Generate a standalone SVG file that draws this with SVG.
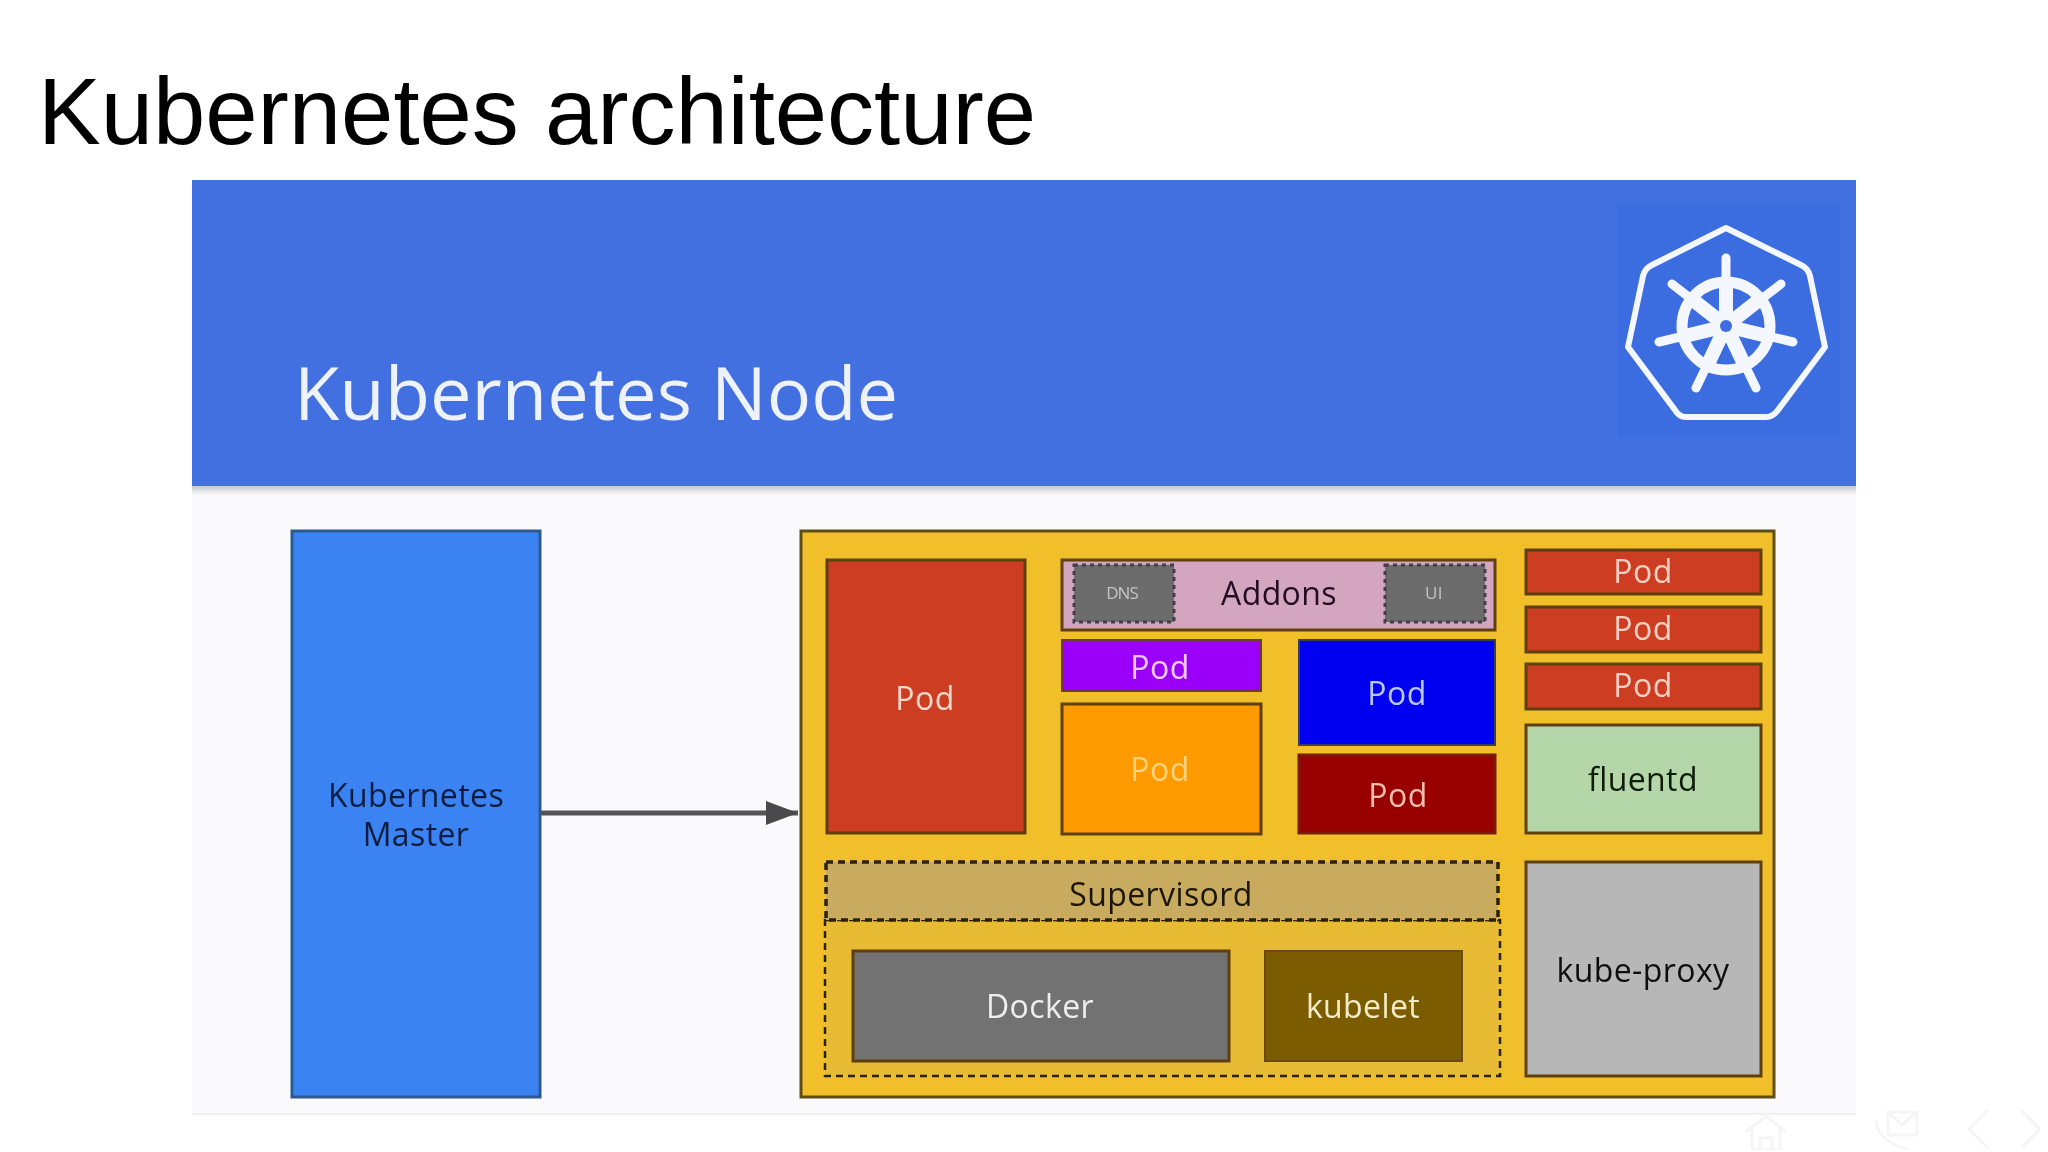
<svg xmlns="http://www.w3.org/2000/svg" width="2048" height="1152" viewBox="0 0 2048 1152">
<style>
.t{font-family:"Open Sans","Noto Sans",sans-serif;font-size:32px;letter-spacing:.4px;text-anchor:middle;fill:#fff}
.b{stroke:#5e400e;stroke-width:3}
.ic{fill:none;stroke:#f5f5f7;stroke-width:3}
.w{stroke:#f4f7fd;fill:none;stroke-linecap:round}
.dash{fill:none;stroke:#2a2008}
</style>
<defs>
<linearGradient id="sh" x1="0" y1="0" x2="0" y2="1"><stop offset="0" stop-color="#c4c8d0"/><stop offset="1" stop-color="#fafafc"/></linearGradient>
<marker id="ah" markerUnits="userSpaceOnUse" markerWidth="34" markerHeight="26" refX="32" refY="13" orient="auto"><path d="M0 1L32 13L0 25Z" fill="#4a4a4c"/></marker>
<filter id="soft" x="0" y="0" width="1" height="1"><feGaussianBlur stdDeviation="0.55"/></filter>
</defs>
<rect width="2048" height="1152" fill="#fff"/>
<text x="38" y="144" font-family="'Liberation Sans',Arial,sans-serif" font-size="94" fill="#000">Kubernetes architecture</text>
<g filter="url(#soft)">
<g id="slide">
<rect x="192" y="486" width="1664" height="628" fill="#fafafc"/>
<rect x="192" y="1113" width="1664" height="2" fill="#f0f0f2"/>
<rect x="192" y="486" width="1664" height="9" fill="url(#sh)"/>
<rect x="192" y="180" width="1664" height="306" fill="#4270e0"/>
<rect x="1618" y="205" width="222" height="232" fill="#3b6de0"/>
<text x="294" y="420" font-family="'Open Sans','Noto Sans',sans-serif" font-size="74" fill="#eef2fb">Kubernetes Node</text>
</g>
<g id="logo">
<path class="w" stroke-width="6" stroke-linejoin="round" d="M1726 228L1801 265Q1808 268 1810 276L1825 347L1778 410Q1773 417 1766 417L1686 417Q1679 417 1675 410L1628 347L1643 276Q1645 268 1652 265Z"/>
<circle class="w" cx="1726" cy="326" r="44" stroke-width="11"/>
<path class="w" stroke-width="9" d="M1726 326V258M1726 326L1781 284M1726 326L1793 342M1726 326L1756 388M1726 326L1696 388M1726 326L1659 342M1726 326L1672 284"/>
<path class="w" stroke-width="14" stroke-linecap="butt" d="M1726 326V284M1726 326L1759 300M1726 326L1767 336M1726 326L1744 364M1726 326L1708 364M1726 326L1685 336M1726 326L1693 300"/>
<circle cx="1726" cy="326" r="15" fill="#f4f7fd"/>
<circle cx="1726" cy="326" r="6" fill="#3b6de0"/>
</g>
<g id="footer-icons" class="ic">
<path d="M1746 1132L1766 1116L1786 1132M1752 1128V1150H1780V1128M1760 1150V1138H1772V1150"/>
<path d="M1888 1112H1917V1135H1888ZM1888 1112L1902 1125L1917 1112M1876 1120Q1876 1140 1908 1150"/>
<path d="M1988 1110L1969 1129L1988 1148M2021 1110L2040 1129L2021 1148"/>
</g>
<g id="connectors">
<line x1="541" y1="813" x2="798" y2="813" stroke="#555558" stroke-width="5" marker-end="url(#ah)"/>
</g>
<g id="master"><rect x="292" y="531" width="248" height="566" fill="#3b82f2" stroke="#2c5a90" stroke-width="3"/>
<text class="t" x="416" y="807" style="fill:#0c1f40">Kubernetes</text><text class="t" x="416" y="846" style="fill:#0c1f40">Master</text></g>
<g id="node"><rect x="801" y="531" width="973" height="566" fill="#f1bf2c" stroke="#5e4e18" stroke-width="3"/></g>
<g id="pod-large"><rect class="b" x="827" y="560" width="198" height="273" fill="#cd3d22"/><text class="t" x="925" y="710" style="fill:#f6d8cc">Pod</text></g>
<g id="addons"><rect class="b" x="1062" y="560" width="433" height="70" fill="#d4a5bf"/><text class="t" x="1279" y="605" style="fill:#220b24">Addons</text></g>
<g id="dns"><rect x="1074" y="565" width="100" height="57" fill="#6c6c6c" stroke="#3f3f46" stroke-width="3" stroke-dasharray="4 4"/><text class="t" x="1122" y="599" style="font-size:17px;fill:#c4c4c4;letter-spacing:-1px">DNS</text></g>
<g id="ui"><rect x="1385" y="565" width="100" height="57" fill="#6c6c6c" stroke="#3f3f46" stroke-width="3" stroke-dasharray="4 4"/><text class="t" x="1434" y="599" style="font-size:17px;fill:#c4c4c4">UI</text></g>
<g id="pod-purple"><rect x="1062" y="640" width="199" height="51" fill="#9a06f8" stroke="#6b3a3a" stroke-width="2"/><text class="t" x="1160" y="679" style="fill:#f3c8ff">Pod</text></g>
<g id="pod-orange"><rect class="b" x="1062" y="704" width="199" height="130" fill="#fd9b02"/><text class="t" x="1160" y="781" style="fill:#fbd27c">Pod</text></g>
<g id="pod-blue"><rect x="1299" y="640" width="196" height="105" fill="#0202f0" stroke="#3a3a5a" stroke-width="2"/><text class="t" x="1397" y="705" style="fill:#b8c8ff">Pod</text></g>
<g id="pod-darkred"><rect x="1299" y="755" width="196" height="78" fill="#980000" stroke="#7a1a08" stroke-width="3"/><text class="t" x="1398" y="807" style="fill:#f8bcb0">Pod</text></g>
<g id="pod-r1"><rect class="b" x="1526" y="550" width="235" height="44" fill="#cd3d22"/><text class="t" x="1643" y="583" style="fill:#f6d0c4">Pod</text></g>
<g id="pod-r2"><rect class="b" x="1526" y="607" width="235" height="45" fill="#cd3d22"/><text class="t" x="1643" y="640" style="fill:#f6d0c4">Pod</text></g>
<g id="pod-r3"><rect class="b" x="1526" y="664" width="235" height="45" fill="#cd3d22"/><text class="t" x="1643" y="697" style="fill:#f6d0c4">Pod</text></g>
<g id="fluentd"><rect class="b" x="1526" y="725" width="235" height="108" fill="#b5d6a8"/><text class="t" x="1643" y="791" style="fill:#101c08">fluentd</text></g>
<g id="kube-proxy"><rect class="b" x="1526" y="862" width="235" height="214" fill="#b7b7b7"/><text class="t" x="1643" y="982" style="fill:#111">kube-proxy</text></g>
<g id="supervisor-box"><rect class="dash" x="825" y="920" width="675" height="156" stroke-width="2.5" stroke-dasharray="7 5" style="fill:#e8bb34"/></g>
<g id="supervisord"><rect x="826" y="862" width="672" height="58" fill="#c9ab60" stroke="#2a2208" stroke-width="3.5" stroke-dasharray="7 5"/><text class="t" x="1161" y="906" style="fill:#1c1604">Supervisord</text></g>
<g id="docker"><rect class="b" x="853" y="951" width="376" height="110" fill="#727272"/><text class="t" x="1040" y="1018" style="fill:#eee">Docker</text></g>
<g id="kubelet"><rect x="1265" y="951" width="197" height="110" fill="#7b5c00" stroke="#6b4a12" stroke-width="2"/><text class="t" x="1363" y="1018" style="fill:#f4ecc8">kubelet</text></g>
</g>
</svg>
